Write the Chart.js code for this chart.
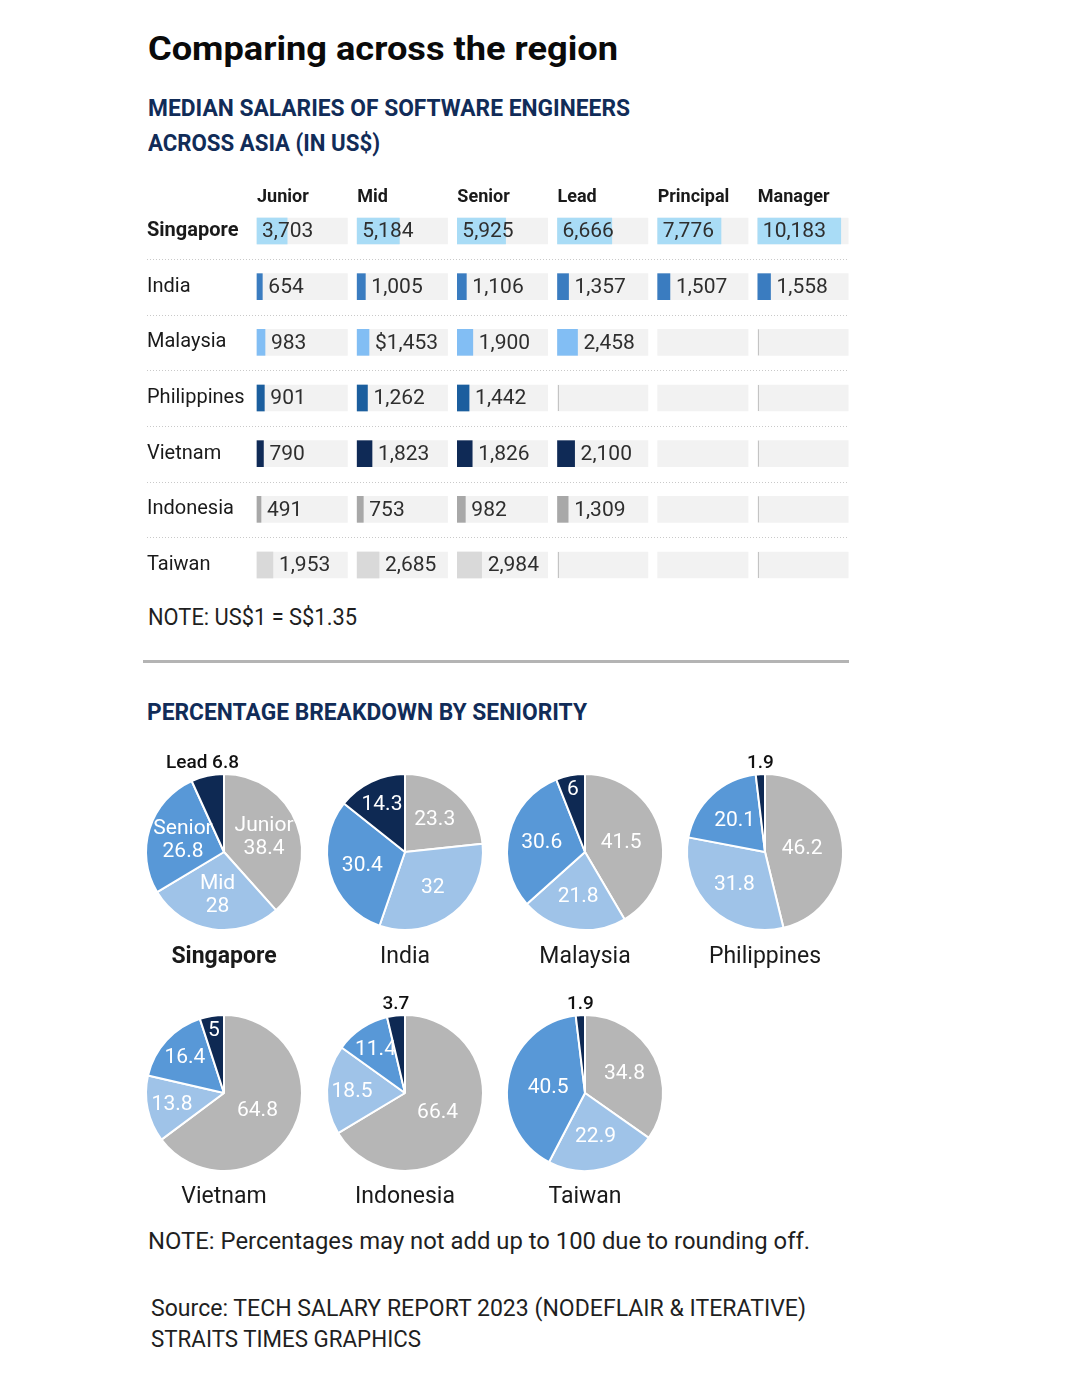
<!DOCTYPE html>
<html>
<head>
<meta charset="utf-8">
<script src="https://cdn.jsdelivr.net/npm/chart.js@4.4.0/dist/chart.umd.min.js"></script>
<style>
  body { margin: 0; background: #fff; font-family: Roboto, "Noto Sans", sans-serif; color: #1a1a1a; }
  #page { position: relative; width: 1084px; height: 1396px; overflow: hidden; }
  .txt { position: absolute; white-space: nowrap; transform-origin: left top; }
  .navy { color: #112c58; font-weight: 700; font-size: 24px; line-height: 24px; }
  .note { font-size: 23px; line-height: 23px; color: #1f1f1f; }
  .pieName { position: absolute; width: 200px; text-align: center; font-size: 23px; line-height: 23px; color: #1a1a1a; }
  canvas { position: absolute; }
</style>
</head>
<body>
<div id="page">
  <div class="txt" style="left:148px; top:31px; font-size:34px; line-height:34px; font-weight:700; color:#0a0a0a" data-w="470">Comparing across the region</div>
  <div class="txt navy" style="left:148px; top:96px" data-w="482">MEDIAN SALARIES OF SOFTWARE ENGINEERS</div>
  <div class="txt navy" style="left:148px; top:131px" data-w="232">ACROSS ASIA (IN US$)</div>

  <canvas id="salaryChart" width="720" height="408" style="left:140px; top:182px"></canvas>

  <div class="txt note" style="left:148px; top:606px" data-w="209">NOTE: US$1 = S$1.35</div>
  <div style="position:absolute; left:143px; top:660px; width:706px; height:3px; background:#b4b4b4"></div>
  <div class="txt navy" style="left:147px; top:700px" data-w="440">PERCENTAGE BREAKDOWN BY SENIORITY</div>

  <div id="pies"></div>

  <div class="txt note" style="left:148px; top:1230px" data-w="662">NOTE: Percentages may not add up to 100 due to rounding off.</div>
  <div class="txt note" style="left:151px; top:1297px" data-w="655">Source: TECH SALARY REPORT 2023 (NODEFLAIR &amp; ITERATIVE)</div>
  <div class="txt note" style="left:151px; top:1328px" data-w="270">STRAITS TIMES GRAPHICS</div>
</div>

<script>
// Median salaries (US$) per seniority level, one array per level
const countries = ['Singapore', 'India', 'Malaysia', 'Philippines', 'Vietnam', 'Indonesia', 'Taiwan'];
const levels = ['Junior', 'Mid', 'Senior', 'Lead', 'Principal', 'Manager'];
const junior = [3703, 654, 983, 901, 790, 491, 1953];
const mid = [5184, 1005, 1453, 1262, 1823, 753, 2685];
const senior = [5925, 1106, 1900, 1442, 1826, 982, 2984];
const lead = [6666, 1357, 2458, null, 2100, 1309, null];
const principal = [7776, 1507, null, null, null, null, null];
const manager = [10183, 1558, null, null, null, null, null];
const dollarCells = ['Malaysia|Mid']; // printed with a $ in the original

// Percentage breakdown: Junior, Mid, Senior, Lead
const pieSingapore = [38.4, 28, 26.8, 6.8];
const pieIndia = [23.3, 32, 30.4, 14.3];
const pieMalaysia = [41.5, 21.8, 30.6, 6];
const piePhilippines = [46.2, 31.8, 20.1, 1.9];
const pieVietnam = [64.8, 13.8, 16.4, 5];
const pieIndonesia = [66.4, 18.5, 11.4, 3.7];
const pieTaiwan = [34.8, 22.9, 40.5, 1.9];

const barColors = ['#a9dcf6', '#3a7cc0', '#82bef4', '#1b5e9e', '#0f2a56', '#a8a8a8', '#d9d9d9'];
const pieColors = ['#b6b6b6', '#9fc3e8', '#5898d7', '#0e2953'];
const FONT = 'Roboto, "Noto Sans", sans-serif';

// Each column spans COL dollars on the shared x axis, the grey track TRACK dollars
const COL = 12300;
const TRACK = 11100;
const markedEmpty = [3, 5]; // columns whose empty cells keep a thin left rule

// Fit headings to the reference widths
document.querySelectorAll('[data-w]').forEach(el => {
    const w = el.getBoundingClientRect().width;
    el.style.transform = `scaleX(${el.dataset.w / w})`;
});

// Dotted separators between the rows
const rowLines = {
    id: 'rowLines',
    beforeDatasetsDraw(chart) {
        const { ctx, chartArea } = chart;
        const y = chart.scales.y;
        ctx.save();
        ctx.strokeStyle = '#c9c9c9';
        ctx.lineWidth = 1;
        ctx.setLineDash([1, 2]);
        for (let i = 0; i < countries.length - 1; i++) {
            const py = Math.round((y.getPixelForValue(i) + y.getPixelForValue(i + 1)) / 2) + 0.5;
            ctx.beginPath();
            ctx.moveTo(chartArea.left - 110, py);
            ctx.lineTo(chartArea.left + 590, py);
            ctx.stroke();
        }
        ctx.restore();
    }
};

// Salary figures written next to (or over) the bars
const valueLabels = {
    id: 'valueLabels',
    afterDatasetsDraw(chart) {
        const { ctx } = chart;
        ctx.save();
        chart.data.datasets.forEach((ds, di) => {
            if (ds.col === undefined) return;
            const values = salaryCols[ds.col];
            const trackBars = chart.getDatasetMeta(di - 1).data;
            chart.getDatasetMeta(di).data.forEach((bar, i) => {
                const v = values[i];
                if (v == null) {
                    if (markedEmpty.includes(ds.col)) {
                        const t = trackBars[i].getProps(['y', 'base']);
                        ctx.fillStyle = '#c4c4c4';
                        ctx.fillRect(Math.round(t.base), t.y - 13, 1, 26);
                    }
                    return;
                }
                const { x, y, base } = bar.getProps(['x', 'y', 'base']);
                let text = v.toLocaleString('en-US');
                if (dollarCells.includes(countries[i] + '|' + levels[ds.col])) text = '$' + text;
                const tx = i === 0 ? base + 5 : x + 6;
                ctx.font = `400 21px ${FONT}`;
                ctx.fillStyle = '#2e2e2e';
                ctx.textBaseline = 'middle';
                ctx.textAlign = 'left';
                ctx.fillText(text, tx, y + 1);
            });
        });
        ctx.restore();
    }
};

const salaryCols = [junior, mid, senior, lead, principal, manager];
const datasets = [];
salaryCols.forEach((col, j) => {
    datasets.push({
        data: countries.map(() => [j * COL, j * COL + TRACK]),
        backgroundColor: '#f2f2f2',
        order: 2
    });
    datasets.push({
        data: col.map(v => v == null ? null : [j * COL, j * COL + v]),
        backgroundColor: barColors,
        order: 1,
        col: j
    });
});

new Chart(document.getElementById('salaryChart'), {
    type: 'bar',
    data: { labels: countries, datasets: datasets },
    options: {
        indexAxis: 'y',
        responsive: false,
        animation: false,
        devicePixelRatio: 1,
        layout: { padding: { left: 7, right: 2, top: 0, bottom: 25 } },
        datasets: { bar: { barThickness: 26, grouped: false, borderSkipped: false, clip: false } },
        plugins: { legend: { display: false }, tooltip: { enabled: false } },
        scales: {
            x: {
                position: 'top',
                min: 0,
                max: 6 * COL,
                grid: { display: false, drawTicks: false },
                border: { display: false },
                afterBuildTicks: scale => { scale.ticks = levels.map((_, i) => ({ value: i * COL })); },
                afterFit: scale => { scale.height = 49; },
                ticks: {
                    autoSkip: false,
                    maxRotation: 0,
                    align: 'start',
                    padding: 23,
                    color: '#1a1a1a',
                    font: { family: FONT, size: 18, weight: 'bold' },
                    callback: (val, i) => levels[i]
                }
            },
            y: {
                offset: false,
                grid: { display: false, drawTicks: false },
                border: { display: false },
                afterFit: scale => {
                    scale.width = 110;
                    scale.paddingTop = 0;
                    scale.paddingBottom = 0;
                },
                ticks: {
                    crossAlign: 'far',
                    padding: 0,
                    color: '#1a1a1a',
                    font: ctx => ({ family: FONT, size: 20, weight: ctx.index === 0 ? 'bold' : 'normal' })
                }
            }
        }
    },
    plugins: [rowLines, valueLabels]
});

// Slice labels for the pies
const pieLabels = {
    id: 'pieLabels',
    afterDatasetsDraw(chart, args, opts) {
        const { ctx } = chart;
        const values = chart.data.datasets[0].data;
        ctx.save();
        ctx.textAlign = 'center';
        ctx.textBaseline = 'middle';
        chart.getDatasetMeta(0).data.forEach((arc, i) => {
            const v = values[i];
            const { x, y, startAngle, endAngle, outerRadius } =
                arc.getProps(['x', 'y', 'startAngle', 'endAngle', 'outerRadius']);
            const midA = (startAngle + endAngle) / 2;
            const name = opts.names ? levels[i] : '';
            if (v < 5 || (name && v < 10)) {
                ctx.fillStyle = '#111';
                ctx.font = `500 19px ${FONT}`;
                const shift = name ? -5 : 0;
                ctx.fillText(name ? name + ' ' + v : String(v), x + outerRadius * Math.cos(midA) + shift, y - outerRadius - 11);
                return;
            }
            let f = v >= 40 ? 0.48 : v >= 20 ? 0.57 : v >= 10 ? 0.68 : 0.82;
            if (name) f = 0.55;
            const lx = x + Math.cos(midA) * outerRadius * f;
            const ly = y + Math.sin(midA) * outerRadius * f;
            ctx.fillStyle = '#fff';
            ctx.font = `400 21px ${FONT}`;
            if (name) {
                ctx.fillText(name, lx, ly - 11);
                ctx.fillText(String(v), lx, ly + 12);
            } else {
                ctx.fillText(String(v), lx, ly + 1);
            }
        });
        ctx.restore();
    }
};

const pieList = [pieSingapore, pieIndia, pieMalaysia, piePhilippines, pieVietnam, pieIndonesia, pieTaiwan];
// pie centres on the page
const pieSlots = [[224, 852], [405, 852], [585, 852], [765, 852], [224, 1093], [405, 1093], [585, 1093]];

const pieBox = document.getElementById('pies');
pieList.forEach((values, k) => {
    const [cx, cy] = pieSlots[k];
    const canvas = document.createElement('canvas');
    canvas.width = 190;
    canvas.height = 200;
    canvas.style.left = (cx - 95) + 'px';
    canvas.style.top = (cy - 108) + 'px';
    pieBox.appendChild(canvas);

    const label = document.createElement('div');
    label.className = 'pieName';
    label.textContent = countries[k];
    label.style.left = (cx - 100) + 'px';
    label.style.top = (cy < 1000 ? 944 : 1184) + 'px';
    if (k === 0) label.style.fontWeight = '700';
    pieBox.appendChild(label);

    new Chart(canvas, {
        type: 'pie',
        data: {
            labels: levels.slice(0, 4),
            datasets: [{ data: values, backgroundColor: pieColors, borderColor: '#fff', borderWidth: 2 }]
        },
        options: {
            responsive: false,
            animation: false,
            devicePixelRatio: 1,
            layout: { padding: { left: 16, right: 16, top: 29, bottom: 13 } },
            plugins: {
                legend: { display: false },
                tooltip: { enabled: false },
                pieLabels: { names: k === 0 }
            }
        },
        plugins: [pieLabels]
    });
});
</script>
</body>
</html>
